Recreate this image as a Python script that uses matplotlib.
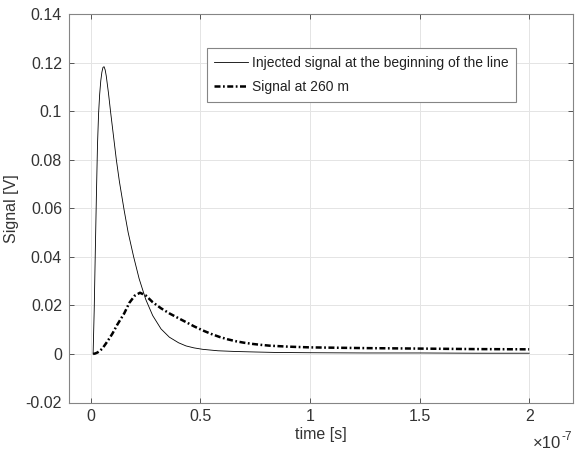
import numpy as np
import matplotlib
matplotlib.use("Agg")
import matplotlib.pyplot as plt
from matplotlib.ticker import FuncFormatter

plt.rcParams['font.family'] = ['Liberation Sans', 'DejaVu Sans']
plt.rcParams['axes.unicode_minus'] = False

# time values in units of 1e-7 s, signal in V
inj_t = [0.01, 0.015, 0.02, 0.025, 0.03, 0.035, 0.04, 0.045, 0.05, 0.055,
         0.06, 0.065, 0.07, 0.08, 0.09, 0.10, 0.116, 0.13, 0.152, 0.17,
         0.195, 0.22, 0.25, 0.282, 0.32, 0.358, 0.40, 0.434, 0.47, 0.51,
         0.58, 0.663, 0.75, 0.85, 1.0, 1.25, 1.5, 1.75, 2.0]
inj_v = [0.0, 0.018, 0.042, 0.065, 0.086, 0.099, 0.107, 0.1125, 0.116, 0.118,
         0.1183, 0.117, 0.1145, 0.1075, 0.0995, 0.092, 0.080, 0.071, 0.059, 0.050,
         0.040, 0.031, 0.0225, 0.0158, 0.0103, 0.0069, 0.0046, 0.0033, 0.0025, 0.0019,
         0.0013, 0.0010, 0.0008, 0.0006, 0.0005, 0.0004, 0.0004, 0.0003, 0.0003]

far_t = [0.01, 0.02, 0.03, 0.04, 0.053, 0.07, 0.085, 0.099, 0.12, 0.152,
         0.175, 0.20, 0.224, 0.25, 0.282, 0.32, 0.358, 0.40, 0.434, 0.47,
         0.51, 0.55, 0.587, 0.625, 0.663, 0.70, 0.74, 0.78, 0.816, 0.9,
         1.0, 1.25, 1.5, 1.75, 2.0]
far_v = [0.0, 0.0002, 0.0006, 0.0012, 0.0023, 0.0045, 0.0065, 0.0085, 0.0120, 0.0167,
         0.0210, 0.0240, 0.0252, 0.0241, 0.0213, 0.0188, 0.0167, 0.0147, 0.0131, 0.0114,
         0.0097, 0.0082, 0.0070, 0.0060, 0.0052, 0.0046, 0.0041, 0.0037, 0.0034, 0.0030,
         0.0027, 0.0024, 0.0022, 0.0020, 0.0019]

xticks = [0, 0.5, 1, 1.5, 2]
yticks = [-0.02, 0, 0.02, 0.04, 0.06, 0.08, 0.1, 0.12, 0.14]

fig = plt.figure(figsize=(5.75, 4.54), dpi=100)
ax = fig.add_axes([69/575, 51.5/454, 504/575, 388.5/454])

ax.plot(np.array(inj_t)*1e-7, inj_v, color='black', lw=0.6,
        label='Injected signal at the beginning of the line')
ax.plot(np.array(far_t)*1e-7, far_v, color='black', lw=1.8,
        linestyle=(0, (2.4, 1.0, 0.7, 1.0)), label='Signal at 260 m')

ax.set_xlim(-0.1e-7, 2.2e-7)
ax.set_ylim(-0.02, 0.14)
ax.set_xticks(np.array(xticks)*1e-7)
ax.set_yticks(yticks)
ax.xaxis.set_major_formatter(FuncFormatter(lambda v, p: '%g' % round(v/1e-7, 3)))
ax.yaxis.set_major_formatter(FuncFormatter(lambda v, p: '%g' % round(v, 3)))

ax.grid(True, color='#e4e4e4', lw=0.7)
ax.set_axisbelow(True)
for s in ax.spines.values():
    s.set_color('#858585')
    s.set_linewidth(0.8)
ax.tick_params(direction='in', top=True, right=True, length=3.5, width=0.7,
               color='#555555', labelsize=11.5, labelcolor='#333333', pad=5)

ax.set_xlabel('time [s]', fontsize=11.5, color='#333333', labelpad=2)
ax.set_ylabel('Signal [V]', fontsize=11.5, color='#333333', labelpad=5)

# exponent label, drawn as two plain texts
fig.text(533/575, 1 - 448/454, '\u00d710', fontsize=12,
         color='#333333', ha='left', va='baseline')
fig.text(561/575, 1 - 440/454, '-7', fontsize=8.5,
         color='#333333', ha='left', va='baseline')

leg = ax.legend(loc='upper right', bbox_to_anchor=(0.887, 0.9125),
                borderaxespad=0, fancybox=False, fontsize=10,
                handlelength=2.4, handletextpad=0.3, borderpad=0.55,
                labelspacing=0.75, framealpha=1)
leg.get_frame().set_edgecolor('#858585')
leg.get_frame().set_linewidth(0.8)
for t in leg.get_texts():
    t.set_color('#222222')

fig.savefig('out.png', dpi=100)
